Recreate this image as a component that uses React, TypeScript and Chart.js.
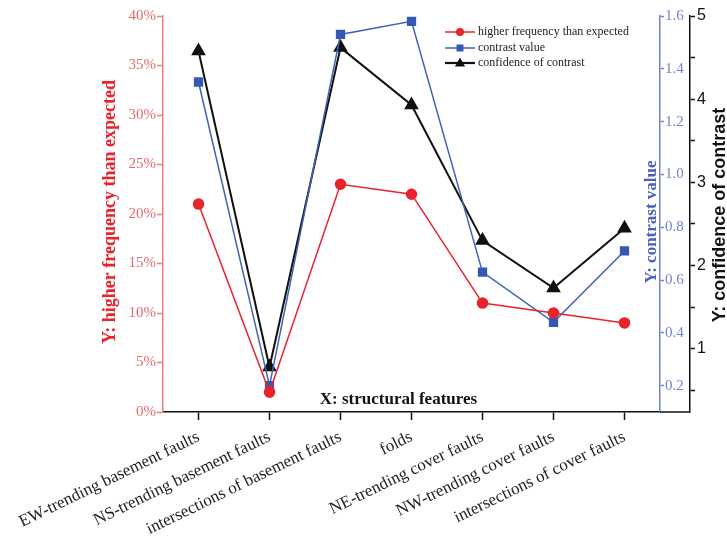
import React, { useEffect, useRef } from 'react';
import { Chart, registerables } from 'chart.js';

Chart.register(...registerables);

const categories = [
  'EW-trending basement faults',
  'NS-trending basement faults',
  'intersections of basement faults',
  'folds',
  'NE-trending cover faults',
  'NW-trending cover faults',
  'intersections of cover faults',
];

const higherFrequency = [21, 2, 23, 22, 11, 10, 9];
const contrastValue = [1.35, 0.2, 1.53, 1.58, 0.63, 0.44, 0.71];
const confidenceOfContrast = [4.58, 0.78, 4.62, 3.93, 2.3, 1.73, 2.45];

const seriesLabels = ['higher frequency than expected', 'contrast value', 'confidence of contrast'];

const freqRange = [0, 40, 5];
const contrastRange = [0.1, 1.6, 0.2];
const confidenceRange = [0.24, 5, 0.5];

const xTitle = 'X: structural features';
const freqTitle = 'Y: higher frequency than expected';
const contrastTitle = 'Y: contrast value';
const confidenceTitle = 'Y: confidence of contrast';

const RED = '#e8232b';
const RED_AXIS = '#ee7f82';
const RED_TICK = '#e46a6e';
const BLUE = '#3f62b8';
const BLUE_AXIS = '#7184c8';
const BLACK = '#111111';

const SERIF = '"Liberation Serif", "Times New Roman", serif';
const SANS = '"Liberation Sans", Arial, sans-serif';

const isMultiple = (v: number, step: number) => Math.abs(v / step - Math.round(v / step)) < 1e-6;

const decorPlugin = {
  id: 'decor',
  afterDraw(chart: any) {
    const { ctx, chartArea, scales } = chart;
    ctx.save();
    const rot = (text: string, x: number, y: number, font: string, color: string) => {
      ctx.save();
      ctx.translate(x, y);
      ctx.rotate(-Math.PI / 2);
      ctx.font = font;
      ctx.fillStyle = color;
      ctx.textAlign = 'center';
      ctx.textBaseline = 'middle';
      ctx.fillText(text, 0, 0);
      ctx.restore();
    };
    const midY = (chartArea.top + chartArea.bottom) / 2;
    rot(freqTitle, scales.yFreq.right - 53, midY - 2, `bold 18px ${SERIF}`, RED);
    rot(contrastTitle, scales.yContrast.left - 8, midY + 8, `bold 17px ${SERIF}`, '#4a62b4');
    rot(confidenceTitle, scales.yConf.left + 30, midY + 1, `bold 18px ${SANS}`, BLACK);

    // x title inside plot
    ctx.font = `bold 17px ${SERIF}`;
    ctx.fillStyle = BLACK;
    ctx.textAlign = 'center';
    ctx.textBaseline = 'middle';
    ctx.fillText(xTitle, (chartArea.left + chartArea.right) / 2 - 13, chartArea.bottom - 12);

    // extend x axis line under the contrast axis
    ctx.strokeStyle = BLACK;
    ctx.lineWidth = 1.5;
    ctx.beginPath();
    ctx.moveTo(chartArea.right, chartArea.bottom);
    ctx.lineTo(scales.yConf.left, chartArea.bottom);
    ctx.stroke();

    // legend
    const lx = chartArea.right - 215;
    const rowY = [chartArea.top + 16, chartArea.top + 32, chartArea.top + 47];
    chart.data.datasets.forEach((ds: any, i: number) => {
      const y = rowY[i];
      ctx.strokeStyle = ds.borderColor;
      ctx.lineWidth = i === 2 ? 2.2 : 1.5;
      ctx.beginPath();
      ctx.moveTo(lx, y);
      ctx.lineTo(lx + 30, y);
      ctx.stroke();
      ctx.fillStyle = ds.pointBackgroundColor;
      const cx = lx + 15;
      ctx.beginPath();
      if (ds.pointStyle === 'circle') {
        ctx.arc(cx, y, 4, 0, Math.PI * 2);
      } else if (ds.pointStyle === 'rect') {
        ctx.rect(cx - 3.5, y - 3.5, 7, 7);
      } else {
        ctx.moveTo(cx, y - 5.5);
        ctx.lineTo(cx + 5, y + 3.5);
        ctx.lineTo(cx - 5, y + 3.5);
        ctx.closePath();
      }
      ctx.fill();
      ctx.font = `12px ${SERIF}`;
      ctx.fillStyle = '#222';
      ctx.textAlign = 'left';
      ctx.textBaseline = 'middle';
      ctx.fillText(ds.label, lx + 33, y);
    });
    ctx.restore();
  },
};

export default function App() {
  const ref = useRef<HTMLCanvasElement | null>(null);

  useEffect(() => {
    if (!ref.current) return;
    const chart = new Chart(ref.current, {
      type: 'line',
      data: {
        labels: categories,
        datasets: [
          {
            label: seriesLabels[0],
            data: higherFrequency,
            yAxisID: 'yFreq',
            borderColor: RED,
            backgroundColor: RED,
            pointBackgroundColor: RED,
            pointBorderColor: RED,
            pointStyle: 'circle',
            pointRadius: 5,
            borderWidth: 1.5,
            tension: 0,
          },
          {
            label: seriesLabels[1],
            data: contrastValue,
            yAxisID: 'yContrast',
            borderColor: BLUE,
            backgroundColor: BLUE,
            pointBackgroundColor: '#3558b2',
            pointBorderColor: '#3558b2',
            pointStyle: 'rect',
            pointRadius: 5.5,
            borderWidth: 1.5,
            tension: 0,
          },
          {
            label: seriesLabels[2],
            data: confidenceOfContrast,
            yAxisID: 'yConf',
            borderColor: BLACK,
            backgroundColor: BLACK,
            pointBackgroundColor: BLACK,
            pointBorderColor: BLACK,
            pointStyle: 'triangle',
            pointRadius: 6.5,
            borderWidth: 2,
            tension: 0,
          },
        ],
      },
      options: {
        responsive: false,
        animation: false,
        layout: { padding: { top: 16, left: 0, right: 0, bottom: 0 } },
        plugins: { legend: { display: false }, tooltip: { enabled: false } },
        scales: {
          x: {
            type: 'category',
            offset: true,
            grid: { display: true, drawOnChartArea: false, drawTicks: true, tickLength: 8, tickColor: BLACK, tickWidth: 1.5, offset: false },
            border: { display: true, color: BLACK, width: 1.5 },
            ticks: {
              autoSkip: false,
              minRotation: 26,
              maxRotation: 26,
              color: '#222',
              padding: 7,
              font: { family: SERIF, size: 17 },
            },
            afterFit: (s: any) => {
              s.height = 125;
              s.paddingLeft = 0;
              s.paddingRight = 0;
            },
          },
          yFreq: {
            type: 'linear',
            position: 'left',
            min: freqRange[0],
            max: freqRange[1],
            grid: { display: true, drawOnChartArea: false, drawTicks: true, tickLength: 6, tickColor: RED_AXIS, tickWidth: 1.5 },
            border: { display: true, color: RED_AXIS, width: 1.5 },
            ticks: {
              stepSize: freqRange[2],
              color: RED_TICK,
              padding: 1,
              font: { family: SERIF, size: 15 },
              callback: (v: any) => `${v}%`,
            },
            afterFit: (s: any) => {
              s.width = 163;
              s.paddingTop = 0;
              s.paddingBottom = 0;
            },
          },
          yContrast: {
            type: 'linear',
            position: 'right',
            weight: 0,
            min: contrastRange[0],
            max: contrastRange[1],
            grid: { display: true, drawOnChartArea: false, drawTicks: true, tickLength: 4, tickColor: BLUE_AXIS, tickWidth: 1.5 },
            border: { display: true, color: BLUE_AXIS, width: 1.5 },
            afterBuildTicks: (s: any) => {
              s.ticks = s.ticks.filter((t: any) => isMultiple(t.value, contrastRange[2]) && t.value > 0.15);
            },
            ticks: {
              stepSize: contrastRange[2],
              color: BLUE_AXIS,
              padding: 1,
              font: { family: SERIF, size: 15 },
              callback: (v: any) => Number(v).toFixed(1),
            },
            afterFit: (s: any) => {
              s.width = 30;
              s.paddingTop = 0;
              s.paddingBottom = 0;
            },
          },
          yConf: {
            type: 'linear',
            position: 'right',
            weight: 1,
            min: confidenceRange[0],
            max: confidenceRange[1],
            grid: { display: true, drawOnChartArea: false, drawTicks: true, tickLength: 5, tickColor: BLACK, tickWidth: 1.5 },
            border: { display: true, color: BLACK, width: 1.5 },
            afterBuildTicks: (s: any) => {
              s.ticks = s.ticks.filter((t: any) => isMultiple(t.value, confidenceRange[2]));
            },
            ticks: {
              stepSize: confidenceRange[2],
              color: BLACK,
              padding: 2,
              font: { family: SANS, size: 16 },
              callback: (v: any) => (isMultiple(Number(v), 1) ? String(v) : ''),
            },
            afterFit: (s: any) => {
              s.width = 37;
              s.paddingTop = 0;
              s.paddingBottom = 0;
            },
          },
        },
      } as any,
      plugins: [decorPlugin],
    });
    return () => chart.destroy();
  }, []);

  return (
    <div style={{ position: 'absolute', left: 0, top: 0, width: 727, height: 537, background: '#fff' }}>
      <canvas ref={ref} width={727} height={537} />
    </div>
  );
}
